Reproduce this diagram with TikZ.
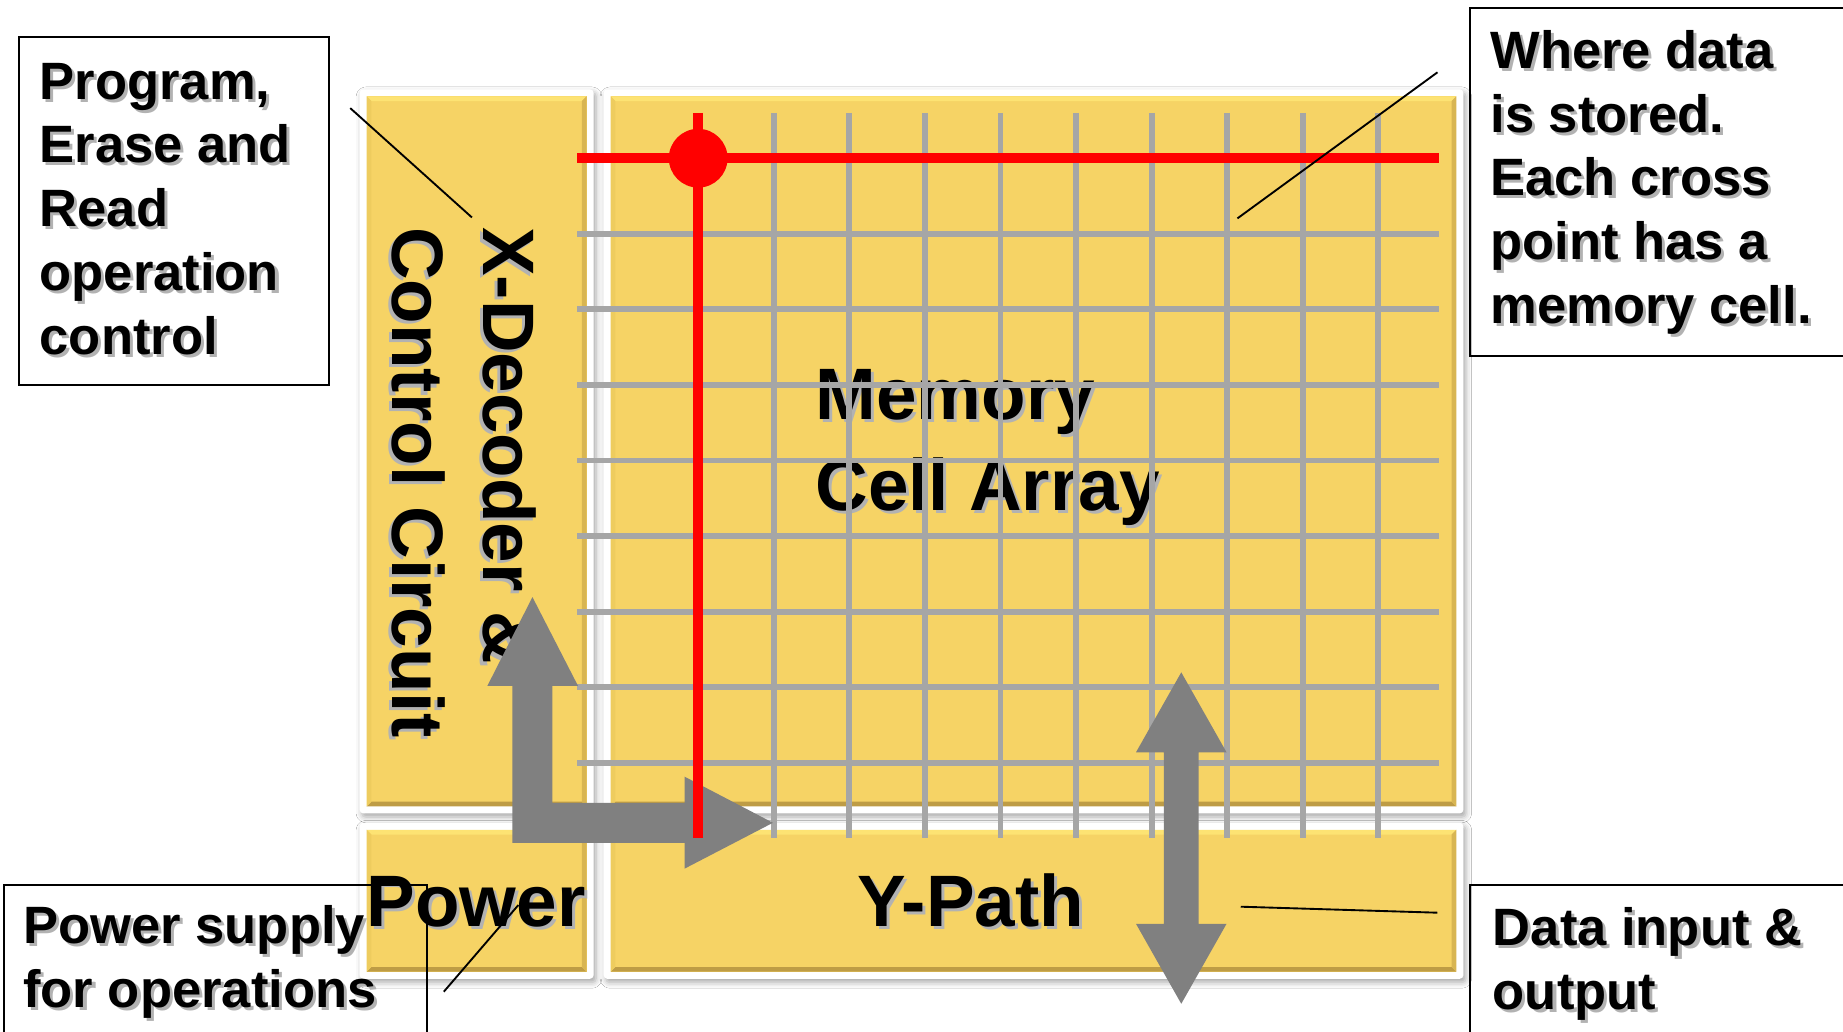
\documentclass[tikz,border=0pt]{standalone}
\usepackage{fontspec}
\setmainfont{Liberation Sans}
\usetikzlibrary{shadows.blur}
\definecolor{yelC}{HTML}{F6D365}
\definecolor{yelTop}{HTML}{FDE373}
\definecolor{yelBot}{HTML}{BE9C45}
\definecolor{yelL}{HTML}{EECC5E}
\definecolor{yelR}{HTML}{D8B552}
\definecolor{gridC}{HTML}{A6A6A6}
\definecolor{arrC}{HTML}{808080}
\definecolor{redC}{HTML}{FF0000}
\newcommand\sh[1]{\leavevmode\rlap{\hspace{1.3pt}\raisebox{-1.3pt}{\textcolor{black!30}{#1}}}#1}
\newcommand\yblk[4]{%
  \fill[white, rounded corners=1.5pt, blur shadow={shadow xshift=1pt, shadow yshift=-1.5pt, shadow blur radius=2.5pt, shadow opacity=35}] ({#1-6},{#2-6}) rectangle ({#3+6},{#4+6});
  \fill[yelC] (#1,#2) rectangle (#3,#4);
  \fill[yelTop] (#1,#2) -- (#3,#2) -- ({#3-4},{#2+4}) -- ({#1+4},{#2+4}) -- cycle;
  \fill[yelBot] (#1,#4) -- (#3,#4) -- ({#3-4},{#4-4}) -- ({#1+4},{#4-4}) -- cycle;
  \fill[yelL] (#1,#2) -- ({#1+4},{#2+4}) -- ({#1+4},{#4-4}) -- (#1,#4) -- cycle;
  \fill[yelR] (#3,#2) -- ({#3-4},{#2+4}) -- ({#3-4},{#4-4}) -- (#3,#4) -- cycle;
}
\begin{document}
\begin{tikzpicture}[x=0.5pt,y=-0.5pt,
  lbl/.style={anchor=base west, inner sep=0pt, align=left, font=\bfseries\fontsize{22.35pt}{27.1pt}\selectfont},
  lblb/.style={anchor=base west, inner sep=0pt, align=left, font=\bfseries\fontsize{22.35pt}{27.35pt}\selectfont},
  big/.style={anchor=base west, inner sep=0pt, align=left, font=\bfseries\fontsize{31pt}{38.5pt}\selectfont},
  cbox/.style={draw=black, line width=0.85pt, anchor=north west, inner sep=0pt},
  cline/.style={draw=black, line width=0.8pt},
  gridl/.style={draw=gridC, line width=2.5pt},
  redl/.style={draw=redC, line width=4.5pt},
  arrow shape/.style={fill=arrC}]
\useasboundingbox (0,0) rectangle (1568,878);
\fill[white] (0,0) rectangle (1568,878);

% blocks
\yblk{312}{82}{499}{686}
\yblk{519.6}{82}{1239}{686}
\yblk{312}{706}{499}{826.7}
\yblk{519.6}{706}{1239}{826.7}

% block labels (base anchor = baseline of the last line)
\node[big] (memtxt) at (693.4,433.9) {\sh{Memory}\\\sh{Cell Array}};
\node[big, rotate=-90] (xdectxt) at (334,193) {\sh{X-Decoder \&}\\\sh{Control Circuit}};
\node[big] (powtxt) at (311.6,788.4) {\sh{Power}};
\node[big] (ytxt) at (729,788.4) {\sh{Y-Path}};

% grid
\foreach \k in {1,...,8} {
  \draw[gridl] (491,{134.6+\k*64.3}) -- (1224,{134.6+\k*64.3});
}
\foreach \k in {1,...,9} {
  \draw[gridl] ({594+\k*64.3},96) -- ({594+\k*64.3},713);
}

% gray arrows
\fill[arrow shape] (436,717) -- (436,583.6) -- (414.6,583.6) -- (453,508) -- (491.8,583.6) -- (470,583.6)
  -- (470,683) -- (582.5,683) -- (582.5,660.8) -- (657.6,700) -- (582.5,739) -- (582.5,717) -- cycle;
\fill[arrow shape] (1005,572) -- (1043.5,640) -- (1019.7,640) -- (1019.7,786) -- (1043.5,786) -- (1005,854)
  -- (966.5,786) -- (990.3,786) -- (990.3,640) -- (966.5,640) -- cycle;

% red word/bit line
\coordinate (rowL) at (491,134.6);
\coordinate (rowR) at (1224,134.6);
\coordinate (colT) at (594,96);
\coordinate (colB) at (594,713);
\draw[redl] (rowL) -- (rowR);
\draw[redl] (colT) -- (colB);
\fill[redC] (594,134.6) circle[radius=25];

% callout lines
\coordinate (c1a) at (298,92);
\coordinate (c1b) at (401.5,185);
\draw[cline] (c1a) -- (c1b);
\coordinate (c2a) at (1052.8,185.8);
\coordinate (c2b) at (1223,61.5);
\draw[cline] (c2a) -- (c2b);
\coordinate (c3a) at (1055.6,771.4);
\coordinate (c3b) at (1222.9,776.5);
\draw[cline] (c3a) -- (c3b);
\coordinate (c4a) at (377.6,843.7);
\coordinate (c4b) at (441,770);
\draw[cline] (c4a) -- (c4b);

% callout boxes
\node[cbox, minimum width=132pt, minimum height=148pt] (box1) at (15,31) {};
\node[cbox, minimum width=165pt, minimum height=148.15pt] (box2) at (1250,5.7) {};
\node[cbox, minimum width=180.1pt, minimum height=75pt] (box3) at (2.2,752) {};
\node[cbox, minimum width=165pt, minimum height=75pt] (box4) at (1250,752.4) {};

% callout texts (base anchor = baseline of the last line)
\node[lbl] (t1) at (33.4,301.2) {\sh{Program,}\\\sh{Erase and}\\\sh{Read}\\\sh{operation}\\\sh{control}};
\node[lbl] (t2) at (1267.7,275) {\sh{Where data}\\\sh{is stored.}\\\sh{Each cross}\\\sh{point has a}\\\sh{memory cell.}};
\node[lblb] (t3) at (19.5,857.3) {\sh{Power supply}\\\sh{for operations}};
\node[lblb] (t4) at (1269.7,858.7) {\sh{Data input \&}\\\sh{output}};
\end{tikzpicture}
\end{document}
